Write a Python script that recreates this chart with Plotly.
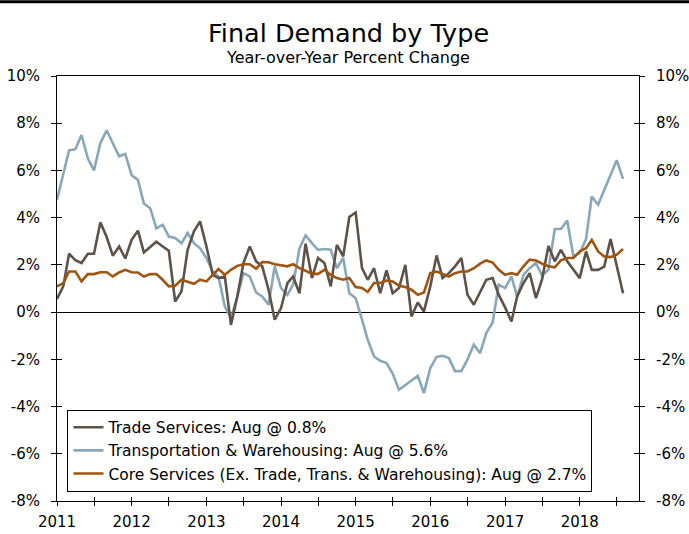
import pandas as pd
from plotly import graph_objects as go

months = pd.date_range('2011-01-01', periods = 92, freq = 'MS')

trade = [
    0.56, 1.1, 2.47, 2.2, 2.08, 2.47, 2.47, 3.8, 3.18, 2.39, 2.78, 2.27,
    3.06, 3.45, 2.53, 2.75, 2.98, 2.78, 2.6, 0.45, 0.88, 2.64, 3.42, 3.84,
    2.78, 1.58, 1.44, 1.51, -0.54, 0.66, 2.08, 2.78, 2.15, 1.94, 0.95, -0.32,
    0.17, 1.23, 1.51, 0.8, 2.9, 1.44, 2.29, 2.08, 1.09, 2.85, 2.36, 4.03,
    4.22, 1.86, 1.37, 1.86, 0.8, 1.77, 0.8, 1.02, 2.0, -0.18, 0.41, 0.03,
    1.09, 2.4, 1.44, 1.65, 1.94, 2.29, 0.73, 0.31, 0.88, 1.37, 1.44, 0.73,
    0.2, -0.4, 0.66, 1.23, 1.65, 0.59, 1.4, 2.8, 2.15, 2.64, 2.15, 1.79,
    1.44, 2.57, 1.79, 1.79, 1.93, 3.09, 1.93, 0.8
]

transport = [
    4.76, 5.8, 6.85, 6.9, 7.5, 6.5, 6.0, 7.15, 7.7, 7.15, 6.6, 6.7,
    5.8, 5.6, 4.6, 4.4, 3.55, 3.7, 3.2, 3.14, 2.92, 3.35, 2.92, 2.7,
    2.29, 1.72, 1.51, 0.24, -0.25, 0.66, 1.65, 1.51, 0.83, 0.66, 0.31, 1.94,
    1.02, 0.73, 1.16, 2.7, 3.25, 2.92, 2.64, 2.67, 2.64, 1.86, 2.29, 0.8,
    0.59, -0.32, -1.17, -1.88, -2.06, -2.16, -2.6, -3.29, -3.08, -2.87, -2.7, -3.43,
    -2.37, -1.9, -1.85, -1.95, -2.5, -2.5, -2.0, -1.38, -1.74, -0.89, -0.44, 1.16,
    1.02, 1.51, 0.66, 1.58, 1.86, 2.08, 1.55, 1.8, 3.52, 3.52, 3.88, 2.36,
    2.5, 3.09, 4.9, 4.55, 5.18, 5.78, 6.43, 5.64
]

core = [
    1.09, 1.23, 1.72, 1.72, 1.3, 1.61, 1.61, 1.69, 1.69, 1.51, 1.68, 1.79,
    1.69, 1.68, 1.51, 1.61, 1.61, 1.37, 1.09, 1.12, 1.37, 1.3, 1.2, 1.37,
    1.3, 1.58, 1.82, 1.58, 1.79, 1.96, 2.03, 2.03, 1.84, 2.12, 2.11, 2.03,
    2.0, 1.94, 2.03, 1.86, 1.75, 1.62, 1.62, 1.79, 1.58, 1.44, 1.37, 1.44,
    1.06, 1.02, 0.85, 1.23, 1.23, 1.34, 1.3, 1.12, 1.06, 0.95, 0.73, 0.83,
    1.65, 1.72, 1.62, 1.51, 1.65, 1.72, 1.72, 1.86, 2.05, 2.19, 2.1, 1.79,
    1.58, 1.65, 1.58, 1.94, 2.22, 2.19, 2.05, 1.94, 1.9, 2.19, 2.29, 2.29,
    2.57, 2.71, 3.06, 2.57, 2.36, 2.33, 2.43, 2.67
]

names = {
    'trade': "Trade Services: Aug @ 0.8%",
    'transport': "Transportation & Warehousing: Aug @ 5.6%",
    'core': "Core Services (Ex. Trade, Trans. & Warehousing): Aug @ 2.7%"
}

years = [2011, 2012, 2013, 2014, 2015, 2016, 2017, 2018]
y_ticks = [10, 8, 6, 4, 2, 0, -2, -4, -6, -8]

FONT = 'DejaVu Sans'
x_range = ['2011-01-01', '2018-10-18']
y_range = [-8, 10]

# year ticks plus mid-year ticks without labels
tick_vals, tick_text = [], []
for year in years:
    tick_vals += [str(year) + '-01-01', str(year) + '-07-01']
    tick_text += [str(year), '']

figure = go.Figure()
figure.add_trace(go.Scatter(x = months, y = transport, name = names['transport'],
    line = {'color': '#8aa7b8', 'width': 2.6}, legendrank = 2))
figure.add_trace(go.Scatter(x = months, y = trade, name = names['trade'],
    line = {'color': '#5e5249', 'width': 2.6}, legendrank = 1))
figure.add_trace(go.Scatter(x = months, y = core, name = names['core'],
    line = {'color': '#9e5510', 'width': 2.6}, legendrank = 3))

# dummy traces so the extra axes (right side, inner tick halves) get drawn
for xa, ya in [('x', 'y2'), ('x2', 'y3'), ('x2', 'y4')]:
    figure.add_trace(go.Scatter(x = [months[0]], y = [None], xaxis = xa, yaxis = ya,
        showlegend = False, hoverinfo = 'skip', mode = 'lines'))

tick_font = {'family': FONT, 'size': 15, 'color': 'black'}
y_common = {
    'range': y_range,
    'tickvals': y_ticks,
    'ticktext': [str(v) + '%' for v in y_ticks],
    'showgrid': False,
    'tickcolor': 'black',
    'ticklen': 5,
    'tickfont': tick_font,
    'automargin': False
}

figure.update_layout(
    width = 689,
    height = 534,
    margin = {'l': 57, 'r': 50, 't': 76, 'b': 33, 'pad': 0},
    paper_bgcolor = 'white',
    plot_bgcolor = 'white',
    font = {'family': FONT, 'color': 'black'},
    showlegend = True,
    legend = {
        'x': 0.018,
        'y': 0.022,
        'xanchor': 'left',
        'yanchor': 'bottom',
        'bgcolor': 'white',
        'bordercolor': 'black',
        'borderwidth': 1,
        'font': {'family': FONT, 'size': 15.5, 'color': 'black'},
        'itemwidth': 30,
        'tracegroupgap': 0
    },
    xaxis = {
        'range': x_range,
        'tickvals': tick_vals,
        'ticktext': tick_text,
        'ticks': 'outside',
        'ticklen': 4,
        'tickcolor': 'black',
        'tickfont': tick_font,
        'ticklabelstandoff': 3,
        'showgrid': False,
        'showline': True,
        'linecolor': 'black',
        'linewidth': 1,
        'mirror': True,
        'automargin': False
    },
    xaxis2 = {
        'range': x_range,
        'overlaying': 'x',
        'tickvals': tick_vals,
        'ticks': 'inside',
        'ticklen': 4,
        'tickcolor': 'black',
        'showticklabels': False,
        'showgrid': False,
        'showline': False,
        'automargin': False
    },
    yaxis = dict(y_common,
        ticks = 'outside',
        showline = True,
        linecolor = 'black',
        linewidth = 1,
        zeroline = True,
        zerolinecolor = 'black',
        zerolinewidth = 1,
        ticklabelstandoff = 8
    ),
    yaxis2 = dict(y_common,
        overlaying = 'y',
        side = 'right',
        ticks = 'outside',
        showline = True,
        linecolor = 'black',
        linewidth = 1,
        zeroline = False,
        ticklabelstandoff = 8
    ),
    yaxis3 = dict(y_common,
        overlaying = 'y',
        anchor = 'x2',
        side = 'left',
        ticks = 'inside',
        showticklabels = False,
        showline = False,
        zeroline = False
    ),
    yaxis4 = dict(y_common,
        overlaying = 'y',
        anchor = 'x2',
        side = 'right',
        ticks = 'inside',
        showticklabels = False,
        showline = False,
        zeroline = False
    ),
    annotations = [
        {'text': "Final Demand by Type", 'xref': 'paper', 'yref': 'paper', 'x': 0.5, 'y': 1.1,
         'xanchor': 'center', 'yanchor': 'middle', 'showarrow': False,
         'font': {'family': FONT, 'size': 25.5, 'color': 'black'}},
        {'text': "Year-over-Year Percent Change", 'xref': 'paper', 'yref': 'paper', 'x': 0.5, 'y': 1.044,
         'xanchor': 'center', 'yanchor': 'middle', 'showarrow': False,
         'font': {'family': FONT, 'size': 16, 'color': 'black'}}
    ],
    shapes = [
        # rule along the top edge of the page
        {'type': 'line', 'xref': 'paper', 'yref': 'paper', 'x0': -0.1, 'x1': 1.1, 'y0': 1.1745, 'y1': 1.1745,
         'line': {'color': 'black', 'width': 3}}
    ]
)

# the page body has a default 8px margin, drop it so the figure fills the window
figure.write_html("out.html",
    config = {'displayModeBar': False},
    post_script = "document.body.style.margin = '0';"
)
